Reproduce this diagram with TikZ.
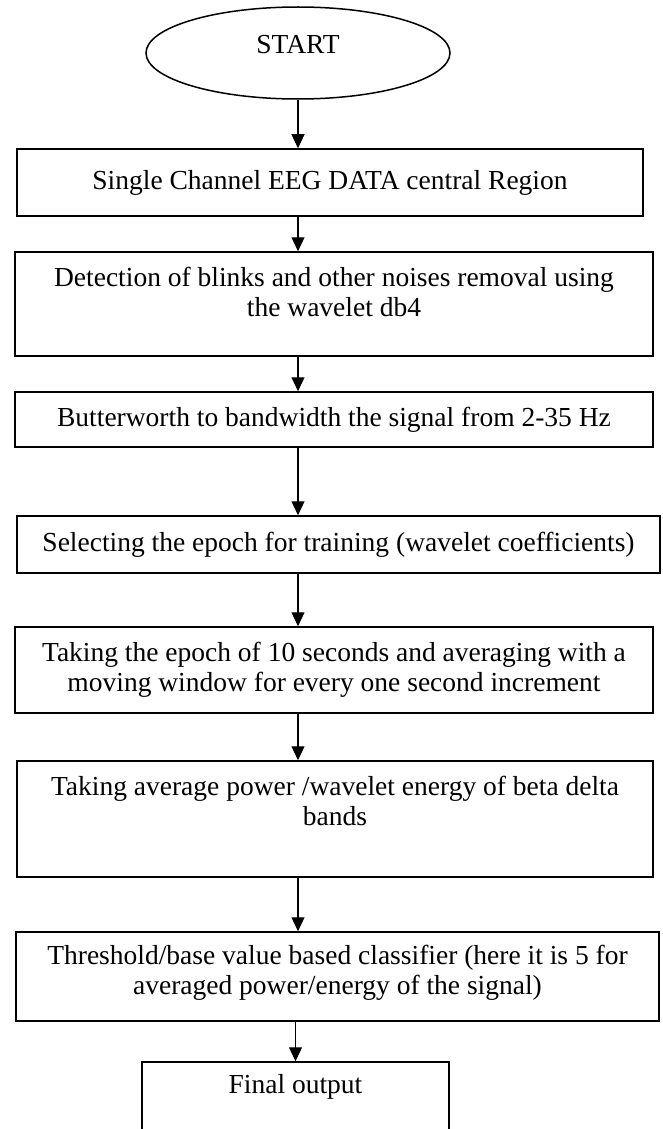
\documentclass[tikz,border=0pt]{standalone}
\usepackage{fontspec}
\setmainfont{Liberation Serif}
\usetikzlibrary{arrows.meta,shapes.geometric}
\begin{document}
\begin{tikzpicture}[x=1pt, y=-1pt, >={Triangle[length=14pt,width=13pt]},
    stepbox/.style={draw, line width=1.5pt, inner sep=0pt, align=center},
    link/.style={->, line width=1.2pt},
    every node/.style={font=\fontsize{27.5}{30}\selectfont}]
  \useasboundingbox (0, 0) rectangle (662, 1129);
  \node[stepbox, ellipse, minimum width=304pt, minimum height=92pt, text depth=18pt] (start) at (298, 53) {START};
  \node[stepbox, minimum width=626pt, minimum height=67pt] (b1) at (330, 182.5) {Single Channel EEG DATA central Region};
  \node[stepbox, minimum width=638pt, minimum height=104pt, text depth=24pt] (b2) at (334, 304) {Detection of blinks and other noises removal using\\the wavelet db4};
  \node[stepbox, minimum width=638pt, minimum height=55pt] (b3) at (334, 419.5) {Butterworth to bandwidth the signal from 2-35 Hz};
  \node[stepbox, minimum width=643pt, minimum height=57pt] (b4) at (338.5, 544.5) {Selecting the epoch for training (wavelet coefficients)};
  \node[stepbox, minimum width=638pt, minimum height=86pt] (b5) at (334, 670) {Taking the epoch of 10 seconds and averaging with a\\moving window for every one second increment};
  \node[stepbox, minimum width=636pt, minimum height=116pt, text depth=36pt] (b6) at (335, 819) {Taking average power /wavelet energy of beta delta\\bands};
  \node[stepbox, minimum width=643pt, minimum height=89pt, text depth=13pt] (b7) at (337.5, 976.5) {Threshold/base value based classifier (here it is 5 for\\averaged power/energy of the signal)};
  \node[stepbox, minimum width=307pt, minimum height=86pt, text depth=42pt] (fin) at (295.5, 1105) {Final output};
  % arrows down the chain
  \draw[link] (start.south) -- (b1.north -| start);
  \foreach \a/\b in {b1/b2, b2/b3, b3/b4, b4/b5, b5/b6, b6/b7}
    \draw[link] (\a.south -| start) -- (\b.north -| start);
  \draw[link] (b7.south -| fin) -- (fin.north);
\end{tikzpicture}
\end{document}
